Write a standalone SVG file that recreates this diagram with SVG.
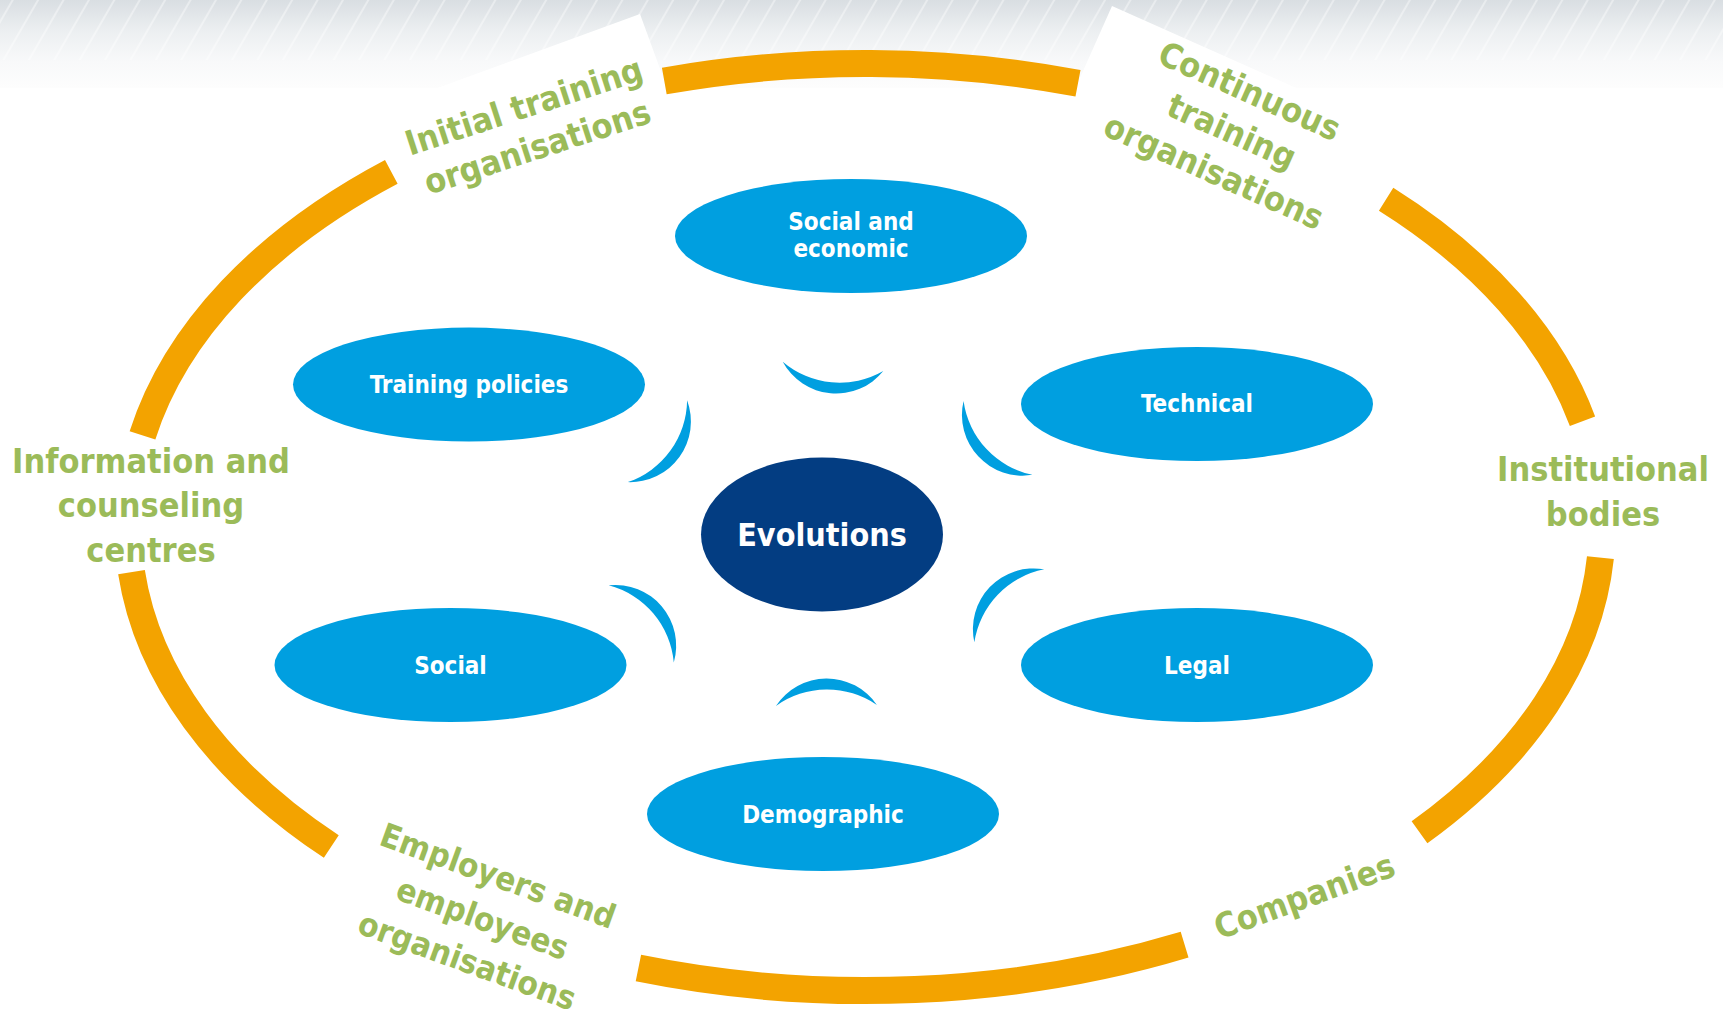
<svg xmlns="http://www.w3.org/2000/svg" width="1723" height="1017" viewBox="0 0 1723 1017">
<defs>
<linearGradient id="band" x1="0" y1="0" x2="0" y2="1">
<stop offset="0" stop-color="#d9dee2"/>
<stop offset="0.35" stop-color="#eceff1"/>
<stop offset="0.7" stop-color="#f8f9fa"/>
<stop offset="1" stop-color="#fdfdfd"/>
</linearGradient>
<pattern id="hatch" width="22" height="22" patternUnits="userSpaceOnUse" patternTransform="rotate(30)">
<line x1="11" y1="0" x2="11" y2="22" stroke="#ffffff" stroke-width="1.4" stroke-opacity="0.55"/>
</pattern>
<path id="cres" d="M -50.5 0 A 60.7 60.7 0 0 0 50.5 0 A 87.7 87.7 0 0 1 -50.5 0 Z"/>
</defs>
<style>
.ring{fill:none;stroke:#F3A300;stroke-width:27}
.node{fill:#009FE0}
.core{fill:#033D82}
.nt{font-family:"DejaVu Sans Condensed","DejaVu Sans",sans-serif;font-weight:bold;fill:#ffffff;text-anchor:middle;font-size:24px}
.big{font-size:32px}
.lbl{font-family:"DejaVu Sans Condensed","DejaVu Sans",sans-serif;font-weight:bold;fill:#9BBB59;text-anchor:middle;font-size:34px}
.sm{font-size:33px}
.cres{fill:#009FE0}
</style>
<rect x="0" y="0" width="1723" height="1017" fill="#ffffff"/>
<g id="background">
<rect x="0" y="0" width="1723" height="88" fill="url(#band)"/>
<rect x="0" y="0" width="1723" height="60" fill="url(#hatch)"/>
<polygon points="640,14 690,151 430,246 380,109" fill="#ffffff"/>
<polygon points="1112,6 1404.5,136.2 1343.5,273 1051,143" fill="#ffffff"/>
</g>
<g id="ring">
<path class="ring" d="M1386.1,199.3 A737,463.5 0 0 1 1582.5,421.2"/>
<path class="ring" d="M664.3,81 A737,463.5 0 0 1 1078,83.3"/>
<path class="ring" d="M142.5,435.4 A737,463.5 0 0 1 391.3,171.9"/>
<path class="ring" d="M331.3,846.6 A737,463.5 0 0 1 131.5,572.2"/>
<path class="ring" d="M1184.6,944.7 A737,463.5 0 0 1 638.4,968.1"/>
<path class="ring" d="M1600.4,557.7 A737,463.5 0 0 1 1419.5,832.3"/>
</g>
<g id="label-info">
<text class="lbl" x="151" y="473">Information and</text>
<text class="lbl" x="151" y="517">counseling</text>
<text class="lbl" x="151" y="562">centres</text>
</g>
<g id="label-institutional">
<text class="lbl" x="1603" y="481">Institutional</text>
<text class="lbl" x="1603" y="526">bodies</text>
</g>
<g id="label-initial" transform="translate(531,128) rotate(-18)">
<text class="lbl" x="0" y="-11">Initial training</text>
<text class="lbl" x="0" y="32">organisations</text>
</g>
<g id="label-continuous" transform="translate(1231,133) rotate(24)">
<text class="lbl" x="0" y="-34">Continuous</text>
<text class="lbl" x="0" y="10">training</text>
<text class="lbl" x="0" y="54">organisations</text>
</g>
<g id="label-employers" transform="translate(482,920) rotate(20)">
<text class="lbl sm" x="0" y="-35.5">Employers and</text>
<text class="lbl sm" x="0" y="10">employees</text>
<text class="lbl sm" x="0" y="55">organisations</text>
</g>
<g id="label-companies" transform="translate(1305,898) rotate(-20)">
<text class="lbl" x="0" y="10">Companies</text>
</g>
<g id="connectors">
<use href="#cres" class="cres" transform="translate(833,366.4) rotate(5.3)"/>
<use href="#cres" class="cres" transform="translate(657.5,441.2) rotate(-54.1)"/>
<use href="#cres" class="cres" transform="translate(998,437.9) rotate(47)"/>
<use href="#cres" class="cres" transform="translate(641.2,623.9) rotate(-130.2)"/>
<use href="#cres" class="cres" transform="translate(1009.3,605.8) rotate(133.8)"/>
<use href="#cres" class="cres" transform="translate(826.4,705.5) rotate(179.4)"/>
</g>
<g id="node-social-economic">
<ellipse class="node" cx="851" cy="236" rx="176" ry="57"/>
<text class="nt" x="851" y="230">Social and</text>
<text class="nt" x="851" y="257">economic</text>
</g>
<g id="node-training-policies">
<ellipse class="node" cx="469" cy="384.6" rx="176" ry="57"/>
<text class="nt" x="469" y="393">Training policies</text>
</g>
<g id="node-technical">
<ellipse class="node" cx="1197" cy="404" rx="176" ry="57"/>
<text class="nt" x="1197" y="412">Technical</text>
</g>
<g id="node-social">
<ellipse class="node" cx="450.5" cy="665" rx="176" ry="57"/>
<text class="nt" x="450.5" y="674">Social</text>
</g>
<g id="node-legal">
<ellipse class="node" cx="1197" cy="665" rx="176" ry="57"/>
<text class="nt" x="1197" y="674">Legal</text>
</g>
<g id="node-demographic">
<ellipse class="node" cx="823" cy="814" rx="176" ry="57"/>
<text class="nt" x="823" y="823">Demographic</text>
</g>
<g id="node-evolutions">
<ellipse class="core" cx="822" cy="534.5" rx="121" ry="77"/>
<text class="nt big" x="822" y="546">Evolutions</text>
</g>
</svg>
